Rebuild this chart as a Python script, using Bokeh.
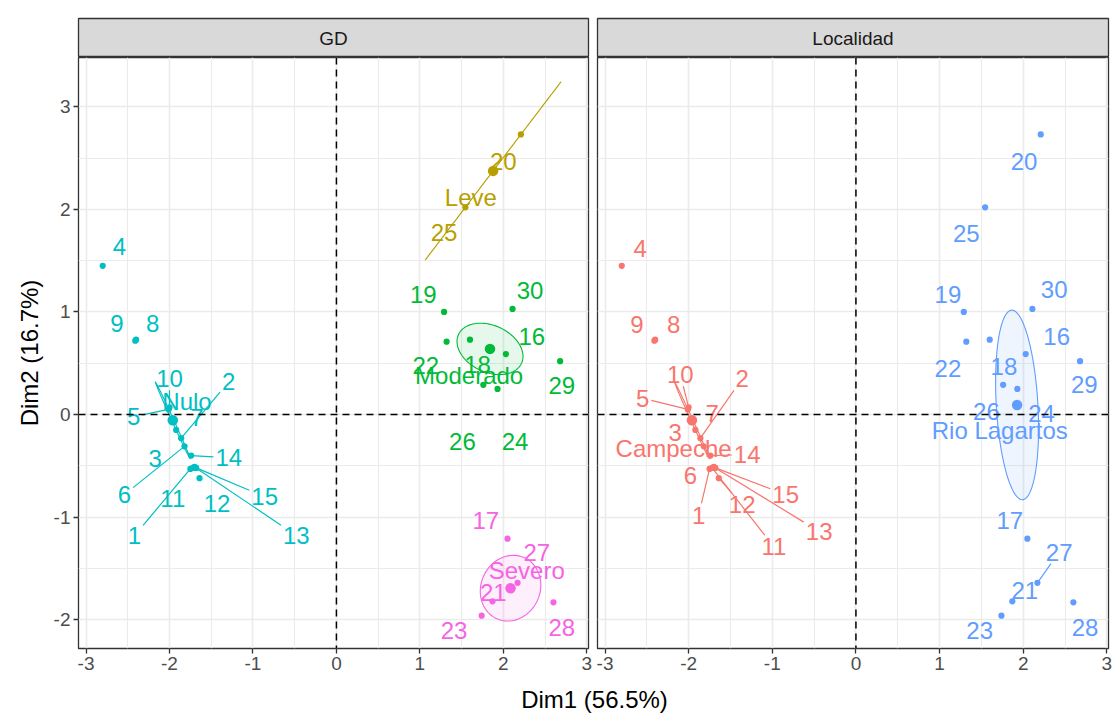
import numpy as np
from bokeh.plotting import figure
from bokeh.layouts import row, column
from bokeh.models import Range1d, FixedTicker, Grid, Span
from bokeh.embed import file_html
from bokeh.resources import INLINE
from bokeh.core.properties import value

# Individual coordinates on the first two dimensions
individuals = [str(i) for i in range(1, 31)]
dim1 = [-1.75, -1.86, -1.96, -2.80, -2.01, -1.82, -1.92, -2.40, -2.41, -2.00,
        -1.72, -1.64, -1.70, -1.74, -1.68, 2.03, 2.05, 1.60, 1.29, 2.21,
        1.87, 1.32, 1.74, 1.93, 1.545, 1.76, 2.17, 2.60, 2.68, 2.11]
dim2 = [-0.53, -0.23, -0.07, 1.45, 0.05, -0.31, -0.15, 0.73, 0.72, 0.07,
        -0.52, -0.62, -0.51, -0.40, -0.52, 0.59, -1.21, 0.73, 1.00, 2.73,
        -1.82, 0.71, -1.96, 0.25, 2.02, 0.29, -1.64, -1.83, 0.52, 1.03]
gd = ["Nulo"] * 15 + ["Moderado", "Severo", "Moderado", "Moderado", "Leve",
                      "Severo", "Moderado", "Severo", "Moderado", "Leve",
                      "Moderado", "Severo", "Severo", "Moderado", "Moderado"]
localidad = ["Campeche"] * 15 + ["Rio Lagartos"] * 15

x_ticks = [-3, -2, -1, 0, 1, 2, 3]
y_ticks = [-2, -1, 0, 1, 2, 3]
x_title = "Dim1 (56.5%)"
y_title = "Dim2 (16.7%)"

# ---- appearance -------------------------------------------------------
COLORS = {"Campeche": "#F8766D", "Leve": "#B79F00", "Moderado": "#00BA38",
          "Nulo": "#00BFC4", "Rio Lagartos": "#619CFF", "Severo": "#F564E3"}
FONT = "Liberation Sans"
LABEL_FS = 24
FRAME_H = 591
X_RANGE = (-3.09, 3.02)
Y_RANGE = (-2.28, 3.48)

# repelled label anchors (data units) for each facet
GD_TEXT = {
    "1": (-2.42, -1.18), "2": (-1.29, 0.32), "3": (-2.17, -0.43), "4": (-2.60, 1.64),
    "5": (-2.43, -0.02), "6": (-2.54, -0.78), "7": (-1.67, -0.03), "8": (-2.20, 0.89),
    "9": (-2.63, 0.89), "10": (-2.00, 0.35), "11": (-1.96, -0.82), "12": (-1.43, -0.87),
    "13": (-0.48, -1.18), "14": (-1.29, -0.42), "15": (-0.86, -0.80), "16": (2.34, 0.76),
    "17": (1.79, -1.03), "18": (1.69, 0.49), "19": (1.04, 1.17), "20": (2.00, 2.47),
    "21": (1.88, -1.73), "22": (1.07, 0.48), "23": (1.41, -2.10), "24": (2.14, -0.26),
    "25": (1.29, 1.77), "26": (1.51, -0.26), "27": (2.40, -1.34), "28": (2.70, -2.08),
    "29": (2.70, 0.28), "30": (2.32, 1.21),
}
GD_GROUP_TEXT = {"Leve": (1.61, 2.12), "Moderado": (1.59, 0.38),
                 "Nulo": (-1.79, 0.13), "Severo": (2.28, -1.52)}
GD_LEADERS = ["1", "2", "5", "6", "10", "13", "14", "15"]

LOC_TEXT = {
    "1": (-1.88, -0.98), "2": (-1.36, 0.35), "3": (-2.16, -0.17), "4": (-2.58, 1.62),
    "5": (-2.55, 0.16), "6": (-1.98, -0.59), "7": (-1.72, 0.01), "8": (-2.18, 0.88),
    "9": (-2.62, 0.88), "10": (-2.10, 0.39), "11": (-0.98, -1.29), "12": (-1.36, -0.88),
    "13": (-0.44, -1.14), "14": (-1.30, -0.39), "15": (-0.84, -0.78), "16": (2.40, 0.76),
    "17": (1.84, -1.03), "18": (1.77, 0.47), "19": (1.10, 1.17), "20": (2.01, 2.47),
    "21": (2.02, -1.71), "22": (1.10, 0.45), "23": (1.48, -2.10), "24": (2.22, 0.01),
    "25": (1.32, 1.76), "26": (1.56, 0.03), "27": (2.43, -1.34), "28": (2.74, -2.08),
    "29": (2.73, 0.29), "30": (2.37, 1.22),
}
LOC_GROUP_TEXT = {"Campeche": (-2.18, -0.33), "Rio Lagartos": (1.72, -0.16)}
LOC_LEADERS = ["1", "2", "5", "10", "11", "12", "13", "14", "15", "27"]


def confidence_ellipse(xs, ys, level=0.95, n=120):
    """95% confidence ellipse around the group barycentre."""
    pts = np.column_stack([xs, ys])
    centre = pts.mean(axis=0)
    cov = np.cov(pts.T) / len(pts)
    radius = np.sqrt(-2.0 * np.log(1.0 - level))
    vals, vecs = np.linalg.eigh(cov)
    vals = np.clip(vals, 0.0, None)
    t = np.linspace(0, 2 * np.pi, n)
    circle = np.vstack([np.cos(t), np.sin(t)])
    pts_e = vecs @ (np.sqrt(vals)[:, None] * circle) * radius
    return centre[0] + pts_e[0], centre[1] + pts_e[1]


def leader_end(px, py, lx, ly, txt, sx, sy):
    """Where a segment from the point meets the label box."""
    dx = (px - lx) * sx
    dy = (py - ly) * sy
    hw = len(txt) * 0.556 * LABEL_FS / 2 + 2
    hh = 0.72 * LABEL_FS / 2 + 3
    tx = hw / abs(dx) if dx else np.inf
    ty = hh / abs(dy) if dy else np.inf
    t = min(tx, ty)
    return lx + dx * t / sx, ly + dy * t / sy


def build_panel(groups, text_pos, group_pos, leaders, frame_w, left, right, with_y):
    p = figure(frame_width=frame_w, frame_height=FRAME_H,
               x_range=Range1d(*X_RANGE), y_range=Range1d(*Y_RANGE),
               output_backend="svg", toolbar_location=None,
               min_border_left=left, min_border_right=right,
               min_border_top=0, min_border_bottom=34,
               x_axis_location="below",
               y_axis_location="left" if with_y else None)
    p.center = [r for r in p.center if not isinstance(r, Grid)]
    p.background_fill_color = "white"
    p.border_fill_color = "white"
    p.outline_line_color = "#333333"
    p.outline_line_width = 1.3

    xt = FixedTicker(ticks=x_ticks, minor_ticks=[v + 0.5 for v in x_ticks[:-1]])
    yt = FixedTicker(ticks=y_ticks, minor_ticks=[v + 0.5 for v in [-3] + y_ticks])
    for dim, tk in ((0, xt), (1, yt)):
        p.add_layout(Grid(dimension=dim, ticker=tk, grid_line_color="#EBEBEB",
                          grid_line_width=1.6, minor_grid_line_color="#EBEBEB",
                          minor_grid_line_width=1.1))

    axes = list(p.xaxis) + list(p.yaxis)
    for ax in axes:
        ax.axis_line_color = None
        ax.major_tick_line_color = "#333333"
        ax.major_tick_line_width = 1.3
        ax.major_tick_out = 5
        ax.major_tick_in = 0
        ax.minor_tick_line_color = None
        ax.major_label_text_font = FONT
        ax.major_label_text_font_size = "19px"
        ax.major_label_text_color = "#4D4D4D"
        ax.major_label_standoff = 3
    p.xaxis.ticker = xt
    p.xaxis.major_label_overrides = {v: str(v) for v in x_ticks}
    if with_y:
        p.yaxis.ticker = yt
        p.yaxis.major_label_overrides = {v: str(v) for v in y_ticks}
        p.yaxis.axis_label = y_title
        p.yaxis.axis_label_text_font = FONT
        p.yaxis.axis_label_text_font_size = "24px"
        p.yaxis.axis_label_text_font_style = "normal"
        p.yaxis.axis_label_text_color = "black"
        p.yaxis.axis_label_standoff = 8

    x = np.array(dim1)
    y = np.array(dim2)
    g = np.array(groups)
    levels = sorted(set(groups))
    sx = frame_w / (X_RANGE[1] - X_RANGE[0])
    sy = FRAME_H / (Y_RANGE[1] - Y_RANGE[0])

    # confidence ellipses
    for lev in levels:
        m = g == lev
        ex, ey = confidence_ellipse(x[m], y[m])
        p.patch(list(ex), list(ey), fill_color=COLORS[lev], fill_alpha=0.1,
                line_color=COLORS[lev], line_width=1.1)

    # individuals
    cols = [COLORS[v] for v in groups]
    p.scatter(list(x), list(y), size=6.2, color=cols, line_width=0)

    # group barycentres
    mx = [float(x[g == lev].mean()) for lev in levels]
    my = [float(y[g == lev].mean()) for lev in levels]
    p.scatter(mx, my, size=10.5, color=[COLORS[v] for v in levels], line_width=0)

    # zero reference lines
    p.add_layout(Span(location=0, dimension="height", line_color="black",
                      line_dash="7 5", line_width=1.5))
    p.add_layout(Span(location=0, dimension="width", line_color="black",
                      line_dash="7 5", line_width=1.5))

    # leader segments for displaced labels
    x0, y0, x1, y1, sc = [], [], [], [], []
    for i, name in enumerate(individuals):
        if name in leaders:
            lx, ly = text_pos[name]
            ex, ey = leader_end(x[i], y[i], lx, ly, name, sx, sy)
            x0.append(float(x[i])); y0.append(float(y[i]))
            x1.append(float(ex)); y1.append(float(ey))
            sc.append(COLORS[groups[i]])
    p.segment(x0, y0, x1, y1, line_color=sc, line_width=1.2)

    # individual labels
    p.text([text_pos[n][0] for n in individuals], [text_pos[n][1] for n in individuals],
           text=individuals, text_color=cols, text_align="center",
           text_baseline="middle", text_font=value(FONT),
           text_font_size=f"{LABEL_FS}px")

    # group labels
    p.text([group_pos[l][0] for l in levels], [group_pos[l][1] for l in levels],
           text=levels, text_color=[COLORS[l] for l in levels], text_align="center",
           text_baseline="middle", text_font=value(FONT),
           text_font_size=f"{LABEL_FS}px")
    return p


def build_strip(label, frame_w, left, right):
    s = figure(frame_width=frame_w, frame_height=39, x_range=Range1d(0, 1),
               y_range=Range1d(0, 1), output_backend="svg", toolbar_location=None,
               min_border_left=left, min_border_right=right, min_border_top=18,
               min_border_bottom=0, x_axis_location=None, y_axis_location=None)
    s.center = [r for r in s.center if not isinstance(r, Grid)]
    s.background_fill_color = "#D9D9D9"
    s.border_fill_color = "white"
    s.outline_line_color = "#333333"
    s.outline_line_width = 1.3
    s.text([0.5], [0.5], text=[label], text_align="center", text_baseline="middle",
           text_color="#1A1A1A", text_font=value(FONT), text_font_size="19px")
    return s


left_panel = build_panel(gd, GD_TEXT, GD_GROUP_TEXT, GD_LEADERS, 510, 78, 4, True)
right_panel = build_panel(localidad, LOC_TEXT, LOC_GROUP_TEXT, LOC_LEADERS, 511, 5, 6, False)
left_strip = build_strip("GD", 510, 78, 4)
right_strip = build_strip("Localidad", 511, 5, 6)

bottom = figure(frame_width=1114, frame_height=34, x_range=Range1d(0, 1114),
                y_range=Range1d(0, 34), output_backend="svg", toolbar_location=None,
                min_border=0, x_axis_location=None, y_axis_location=None)
bottom.center = [r for r in bottom.center if not isinstance(r, Grid)]
bottom.outline_line_color = None
bottom.text([594], [17], text=[x_title], text_align="center", text_baseline="middle",
            text_color="black", text_font=value(FONT), text_font_size="24px")

layout = column(row(column(left_strip, left_panel), column(right_strip, right_panel)), bottom)

with open("out.html", "w") as f:
    f.write(file_html(layout, INLINE))
